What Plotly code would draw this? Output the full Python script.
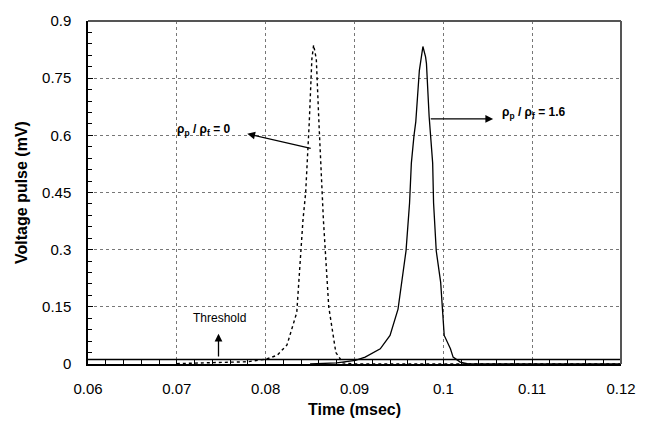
import plotly.graph_objects as go

# --- data ---
x_rho0 = [0.07, 0.075, 0.078, 0.0801, 0.0813, 0.0824, 0.0835, 0.0842, 0.0845, 0.0849,
          0.0852, 0.0854, 0.0857, 0.0860, 0.0863, 0.0865, 0.0871, 0.0879, 0.0887, 0.090, 0.12]
y_rho0 = [0.001, 0.003, 0.006, 0.013, 0.023, 0.05, 0.135, 0.378, 0.449, 0.631,
          0.80, 0.837, 0.80, 0.631, 0.449, 0.378, 0.15, 0.03, 0.003, 0.0, 0.0]

x_rho16 = [0.085, 0.088, 0.0901, 0.0912, 0.0929, 0.0940, 0.0949, 0.0958, 0.0962, 0.0964,
           0.0967, 0.0969, 0.0973, 0.0975, 0.0977, 0.0980, 0.0981, 0.0984, 0.0988, 0.0989,
           0.0992, 0.0997, 0.0999, 0.1001, 0.1008, 0.1011, 0.1019, 0.1028, 0.12]
y_rho16 = [0.0, 0.003, 0.0096, 0.018, 0.040, 0.075, 0.144, 0.297, 0.423, 0.527,
           0.60, 0.636, 0.77, 0.80, 0.833, 0.806, 0.788, 0.65, 0.527, 0.423,
           0.297, 0.214, 0.144, 0.075, 0.040, 0.018, 0.005, 0.0, 0.0]

threshold_x = [0.06, 0.12]
threshold_y = [0.012, 0.012]

x_ticks = [0.06, 0.07, 0.08, 0.09, 0.10, 0.11, 0.12]
x_tick_labels = ["0.06", "0.07", "0.08", "0.09", "0.1", "0.11", "0.12"]
y_ticks = [0, 0.15, 0.3, 0.45, 0.6, 0.75, 0.9]
y_tick_labels = ["0", "0.15", "0.3", "0.45", "0.6", "0.75", "0.9"]

FONT = "Liberation Sans, Arial, sans-serif"

fig = go.Figure()
fig.add_trace(go.Scatter(x=threshold_x, y=threshold_y, mode="lines",
                         line=dict(color="black", width=1.6), showlegend=False))
fig.add_trace(go.Scatter(x=x_rho0, y=y_rho0, mode="lines",
                         line=dict(color="black", width=1.4, dash="dot"), showlegend=False))
fig.add_trace(go.Scatter(x=x_rho16, y=y_rho16, mode="lines",
                         line=dict(color="black", width=1.3), showlegend=False))

# text annotations
fig.add_annotation(x=0.07295, y=0.615, xref="x", yref="y", showarrow=False,
                   text="<b>ρ<sub>p</sub> / ρ<sub>f</sub> = 0</b>",
                   font=dict(family=FONT, size=12, color="black"))
fig.add_annotation(x=0.1102, y=0.659, xref="x", yref="y", showarrow=False,
                   text="<b>ρ<sub>p</sub> / ρ<sub>f</sub> = 1.6</b>",
                   font=dict(family=FONT, size=12, color="black"))
fig.add_annotation(x=0.0748, y=0.122, xref="x", yref="y", showarrow=False,
                   text="Threshold", font=dict(family=FONT, size=12, color="black"))

# arrows
for (hx, hy, tx, ty) in [(0.07793, 0.604, 0.08524, 0.565),
                         (0.10561, 0.643, 0.09841, 0.643),
                         (0.07469, 0.0796, 0.07469, 0.0156)]:
    fig.add_annotation(x=hx, y=hy, ax=tx, ay=ty, xref="x", yref="y", axref="x", ayref="y",
                       text="", showarrow=True, arrowhead=2, arrowsize=1.2,
                       arrowwidth=1.3, arrowcolor="black", standoff=0, startstandoff=0)

# top/right gray frame
fig.add_shape(type="line", xref="paper", yref="paper", x0=0, x1=1, y0=1, y1=1,
              line=dict(color="#555555", width=2))
fig.add_shape(type="line", xref="paper", yref="paper", x0=1, x1=1, y0=0, y1=1,
              line=dict(color="#555555", width=2))

fig.update_layout(
    width=648, height=429,
    margin=dict(l=88, r=18, t=17, b=65),
    paper_bgcolor="white", plot_bgcolor="white",
    font=dict(family=FONT, size=15, color="black"),
)
fig.update_xaxes(
    range=[0.06, 0.12], tickvals=x_ticks, ticktext=x_tick_labels,
    showline=True, linecolor="black", linewidth=1.5,
    ticks="inside", ticklen=5, tickcolor="black",
    showgrid=True, gridcolor="#777777", griddash="dot", gridwidth=1,
    minor=dict(dtick=0.002, ticks="inside", ticklen=5, tickcolor="black", showgrid=False),
    zeroline=False, ticklabelstandoff=10,
    title=dict(text="<b>Time (msec)</b>", font=dict(family=FONT, size=16), standoff=8),
)
fig.update_yaxes(
    range=[0, 0.9], tickvals=y_ticks, ticktext=y_tick_labels,
    showline=True, linecolor="black", linewidth=1.5,
    ticks="inside", ticklen=5, tickcolor="black",
    showgrid=True, gridcolor="#777777", griddash="dot", gridwidth=1,
    minor=dict(dtick=0.03, ticks="inside", ticklen=4, tickcolor="black", showgrid=False),
    zeroline=False, ticklabelstandoff=12,
    title=dict(text="<b>Voltage pulse (mV)</b>", font=dict(family=FONT, size=16), standoff=10),
)

fig.write_html("out.html")
